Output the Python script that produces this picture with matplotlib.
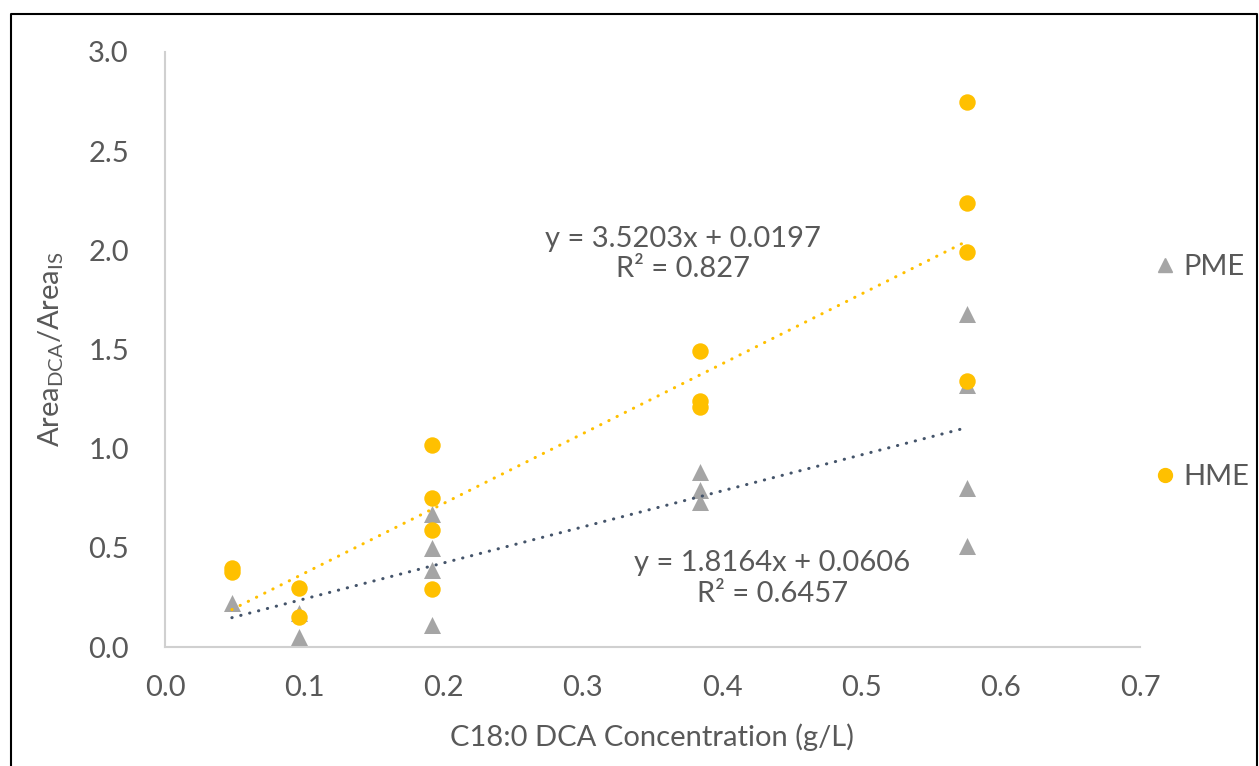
import numpy as np
import matplotlib.pyplot as plt
from matplotlib.lines import Line2D

plt.rcParams['font.family'] = ['Lato', 'DejaVu Sans']
plt.rcParams['mathtext.fontset'] = 'custom'
plt.rcParams['mathtext.rm'] = 'Lato'
plt.rcParams['mathtext.it'] = 'Lato:italic'

# data
pme_x = [0.048, 0.096, 0.096, 0.192, 0.192, 0.192, 0.192, 0.384, 0.384, 0.384,
         0.576, 0.576, 0.576, 0.576]
pme_y = [0.22, 0.17, 0.05, 0.67, 0.50, 0.39, 0.11, 0.88, 0.79, 0.73,
         1.68, 1.32, 0.80, 0.51]
hme_x = [0.048, 0.048, 0.096, 0.096, 0.192, 0.192, 0.192, 0.192, 0.384, 0.384,
         0.384, 0.576, 0.576, 0.576, 0.576]
hme_y = [0.40, 0.38, 0.30, 0.15, 1.02, 0.75, 0.59, 0.29, 1.49, 1.24,
         1.21, 2.75, 2.24, 1.99, 1.34]

# trendline coefficients (slope, intercept) as printed on the chart
pme_fit = (1.8164, 0.0606)
hme_fit = (3.5203, 0.0197)
pme_label = "y = 1.8164x + 0.0606\nR² = 0.6457"
hme_label = "y = 3.5203x + 0.0197\nR² = 0.827"

text_col = '#595959'
gray = '#A5A5A5'
gold = '#FFC000'
navy = '#44546A'
fs = 21

fig = plt.figure(figsize=(12.59, 7.66), dpi=100)
ax = fig.add_axes([165 / 1259, 1 - 647 / 766, (1140 - 165) / 1259, (647 - 52) / 766])

ax.scatter(pme_x, pme_y, marker='^', s=150, color=gray, zorder=2, linewidths=0)
ax.scatter(hme_x, hme_y, marker='o', s=140, color=gold, zorder=3, linewidths=0)

xs = np.array([min(pme_x), max(pme_x)])
ax.plot(xs, pme_fit[0] * xs + pme_fit[1], color=navy, lw=2.2,
        linestyle=(0, (0.1, 2.9)), dash_capstyle='round', zorder=4)
xs = np.array([min(hme_x), max(hme_x)])
ax.plot(xs, hme_fit[0] * xs + hme_fit[1], color=gold, lw=2.2,
        linestyle=(0, (0.1, 2.9)), dash_capstyle='round', zorder=4)

ax.text(0.372, 1.98, hme_label, ha='center', va='center', fontsize=fs,
        color=text_col, linespacing=1.2)
ax.text(0.436, 0.345, pme_label, ha='center', va='center', fontsize=fs,
        color=text_col, linespacing=1.2)

ax.set_xlim(0, 0.7)
ax.set_ylim(0, 3.0)
ax.set_xticks(np.arange(0, 0.71, 0.1))
ax.set_yticks(np.arange(0, 3.01, 0.5))
ax.set_xticklabels([f"{v:.1f}" for v in np.arange(0, 0.71, 0.1)])
ax.set_yticklabels([f"{v:.1f}" for v in np.arange(0, 3.01, 0.5)])
ax.tick_params(axis='both', length=0, labelsize=fs, colors=text_col)
ax.tick_params(axis='x', pad=20)
ax.tick_params(axis='y', pad=26)

for side in ['top', 'right']:
    ax.spines[side].set_visible(False)
for side in ['left', 'bottom']:
    ax.spines[side].set_color('#D0D0D0')
    ax.spines[side].set_linewidth(1.5)

ax.set_xlabel("C18:0 DCA Concentration (g/L)", fontsize=fs, color=text_col, labelpad=16)
ax.set_ylabel(r"Area$_{\mathrm{DCA}}$/Area$_{\mathrm{IS}}$", fontsize=fs,
              color=text_col, labelpad=16)

handles = [Line2D([], [], marker='^', ls='none', color=gray, markersize=10),
           Line2D([], [], marker='o', ls='none', color=gold, markersize=10)]
leg = ax.legend(handles, ['PME', 'HME'], loc='center left',
                bbox_to_anchor=(1150 / 1259, 1 - 372 / 766),
                bbox_transform=fig.transFigure, frameon=False, fontsize=fs,
                labelspacing=6.3, handletextpad=0.15, handlelength=1.0,
                borderpad=0, borderaxespad=0)
for t in leg.get_texts():
    t.set_color(text_col)

# outer chart border
fig.add_artist(Line2D([11 / 1259, 11 / 1259, 1257 / 1259, 1257 / 1259],
                      [0, 1 - 14 / 766, 1 - 14 / 766, 0],
                      transform=fig.transFigure, color='black', lw=1.5))

fig.savefig('out.png', dpi=100)
